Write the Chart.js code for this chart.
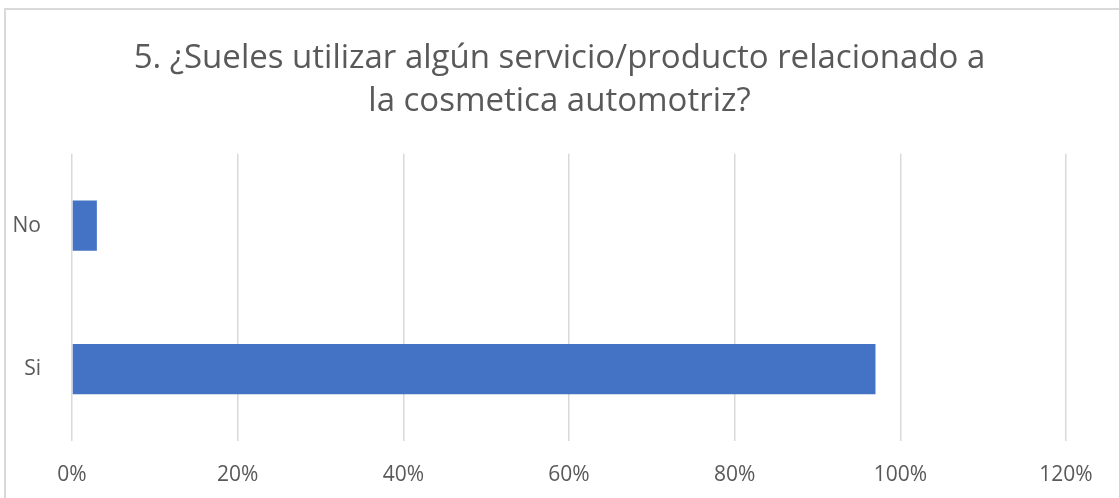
<!DOCTYPE html>
<html>
<head>
<meta charset="utf-8">
<script src="https://cdn.jsdelivr.net/npm/chart.js"></script>
<style>
  html, body { margin: 0; padding: 0; background: #fff; overflow: hidden; }
  #wrap { position: absolute; left: 0; top: 0; width: 1119px; height: 498px; }
  #frame { position: absolute; left: 4px; top: 8px; width: 1200px; height: 600px;
           border-left: 2px solid #d9d9d9; border-top: 2px solid #d9d9d9; pointer-events: none; }
</style>
</head>
<body>
<div id="wrap"><canvas id="chart" width="1119" height="498"></canvas></div>
<div id="frame"></div>
<script>
// answers and share of respondents (%)
const categories = ['No', 'Si'];
const shares = [3, 97];
const titleLines = ['5. ¿Sueles utilizar algún servicio/producto relacionado a', 'la cosmetica automotriz?'];
const axisMin = 0, axisMax = 120, axisStep = 20;

const grey = '#595959';
const fontFamily = '"Open Sans", sans-serif';

new Chart(document.getElementById('chart'), {
  type: 'bar',
  data: {
    labels: categories,
    datasets: [{
      data: shares,
      backgroundColor: '#4472c4',
      borderWidth: 0,
      categoryPercentage: 1,
      barPercentage: 0.35
    }]
  },
  options: {
    indexAxis: 'y',
    responsive: false,
    animation: false,
    layout: { padding: 0 },
    plugins: {
      legend: { display: false },
      tooltip: { enabled: false },
      title: {
        display: true,
        text: titleLines,
        color: grey,
        font: { family: fontFamily, size: 33, weight: 'normal', lineHeight: 1.3 },
        padding: { top: 37, bottom: 31 }
      }
    },
    scales: {
      x: {
        min: axisMin,
        max: axisMax,
        grid: { color: '#d9d9d9', lineWidth: 1.5, drawTicks: false },
        border: { display: false },
        ticks: {
          stepSize: axisStep,
          padding: 21,
          color: grey,
          font: { family: fontFamily, size: 21 },
          callback: v => v + '%'
        },
        afterFit: s => { s.height = 57; }
      },
      y: {
        grid: { display: false },
        border: { display: false },
        ticks: { padding: 23, color: grey, font: { family: fontFamily, size: 21 } },
        afterFit: s => { s.width = 72; }
      },
      // empty right-hand spacer so the plot stops at 120% while the title stays centred
      spacer: {
        type: 'linear',
        position: 'right',
        grid: { display: false },
        border: { display: false },
        ticks: { display: false },
        afterFit: s => { s.width = 53; }
      }
    }
  }
});
</script>
</body>
</html>
